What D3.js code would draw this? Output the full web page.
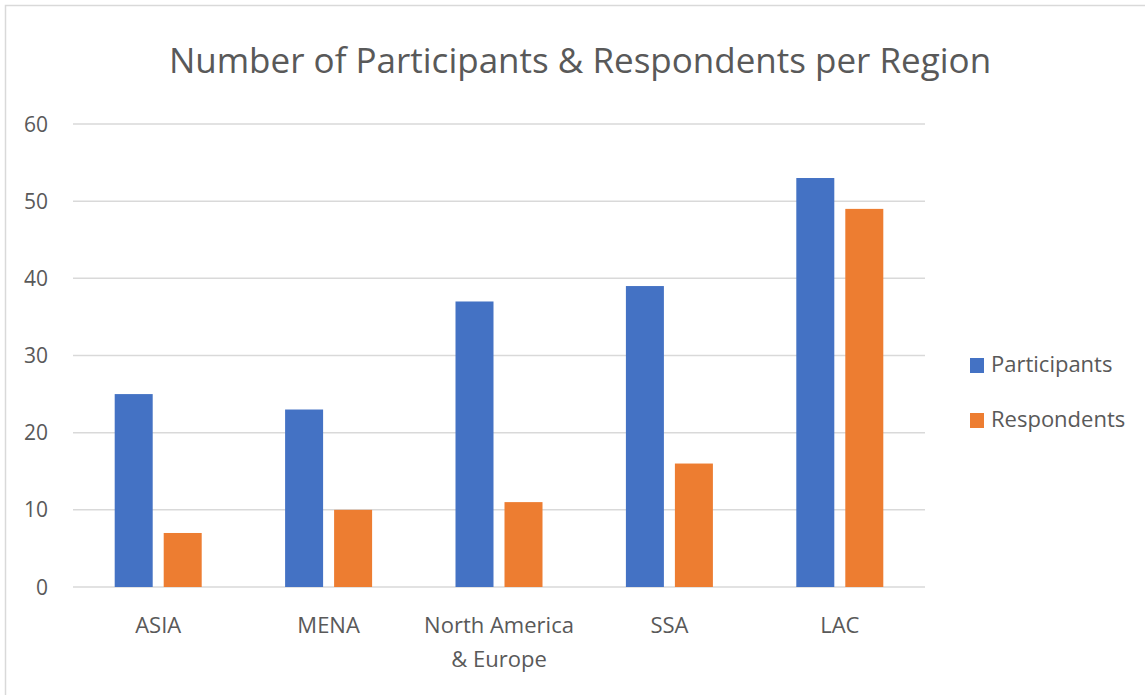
<!DOCTYPE html>
<html>
<head>
<meta charset="utf-8">
<script src="https://cdn.jsdelivr.net/npm/d3@7"></script>
<style>
  body { margin: 0; background: #fff; }
  text { font-family: "Open Sans", "Noto Sans", sans-serif; fill: #595959; }
</style>
</head>
<body>
<div id="chart"></div>
<script>
// data
var regions = ["ASIA", "MENA", "North America & Europe", "SSA", "LAC"]
var participants = [25, 23, 37, 39, 53]
var respondents = [7, 10, 11, 16, 49]
var seriesNames = ["Participants", "Respondents"]
var seriesColors = ["#4472c4", "#ed7d31"]
var yTicks = [0, 10, 20, 30, 40, 50, 60]

var width = 1145, height = 695
var margin = { top: 124, left: 73, right: 220, bottom: 108 }

var svg = d3.select("#chart").append("svg")
    .attr("width", width)
    .attr("height", height)

// outer frame (only top and left visible)
svg.append("path")
    .attr("d", "M5.5,695 L5.5,5.5 L1145,5.5")
    .attr("fill", "none")
    .attr("stroke", "#d9d9d9")
    .attr("stroke-width", 1.5)

var x = d3.scaleBand()
    .domain(regions)
    .range([margin.left, width - margin.right])
    .paddingInner(0)
    .paddingOuter(0)

var x1 = d3.scaleBand()
    .domain(seriesNames)
    .range([0, 87])
    .paddingInner(0.2245)

var y = d3.scaleLinear()
    .domain([0, 60])
    .range([height - margin.bottom, margin.top])

// gridlines
svg.append("g")
    .selectAll("line")
    .data(yTicks)
    .enter().append("line")
    .attr("x1", margin.left)
    .attr("x2", width - margin.right)
    .attr("y1", function (d) { return y(d) })
    .attr("y2", function (d) { return y(d) })
    .attr("stroke", "#d9d9d9")
    .attr("stroke-width", 1.5)

// y labels
svg.append("g")
    .selectAll("text")
    .data(yTicks)
    .enter().append("text")
    .attr("x", 48)
    .attr("y", function (d) { return y(d) })
    .attr("dy", "0.36em")
    .attr("text-anchor", "end")
    .style("font-size", "21px")
    .text(function (d) { return d })

// bars
var rows = regions.map(function (r, i) {
    return { region: r, values: [participants[i], respondents[i]] }
})

var groups = svg.append("g")
    .selectAll("g")
    .data(rows)
    .enter().append("g")
    .attr("transform", function (d) {
        return "translate(" + (x(d.region) + x.bandwidth() / 2 - 43.5) + ",0)"
    })

groups.selectAll("rect")
    .data(function (d) {
        return d.values.map(function (v, j) { return { name: seriesNames[j], value: v, color: seriesColors[j] } })
    })
    .enter().append("rect")
    .attr("x", function (d) { return x1(d.name) })
    .attr("width", x1.bandwidth())
    .attr("y", function (d) { return y(d.value) })
    .attr("height", function (d) { return y(0) - y(d.value) })
    .attr("fill", function (d) { return d.color })

// x labels (wrap North America & Europe)
var xLabels = svg.append("g")
    .selectAll("text")
    .data(regions)
    .enter().append("text")
    .attr("text-anchor", "middle")
    .attr("x", function (d) { return x(d) + x.bandwidth() / 2 })
    .attr("y", 633)
    .style("font-size", "22px")

xLabels.each(function (d) {
    var lines = d === "North America & Europe" ? ["North America", "& Europe"] : [d]
    var t = d3.select(this)
    lines.forEach(function (l, i) {
        t.append("tspan")
            .attr("x", x(d) + x.bandwidth() / 2)
            .attr("dy", i === 0 ? 0 : 34)
            .text(l)
    })
})

// title
svg.append("text")
    .attr("x", 580)
    .attr("y", 73)
    .attr("text-anchor", "middle")
    .style("font-size", "35px")
    .text("Number of Participants & Respondents per Region")

// legend
var legend = svg.append("g")
    .selectAll("g")
    .data(seriesNames)
    .enter().append("g")
    .attr("transform", function (d, i) { return "translate(970," + (358 + i * 55) + ")" })

legend.append("rect")
    .attr("width", 14)
    .attr("height", 15)
    .attr("fill", function (d, i) { return seriesColors[i] })

legend.append("text")
    .attr("x", 21)
    .attr("y", 14)
    .style("font-size", "22px")
    .text(function (d) { return d })
</script>
</body>
</html>
